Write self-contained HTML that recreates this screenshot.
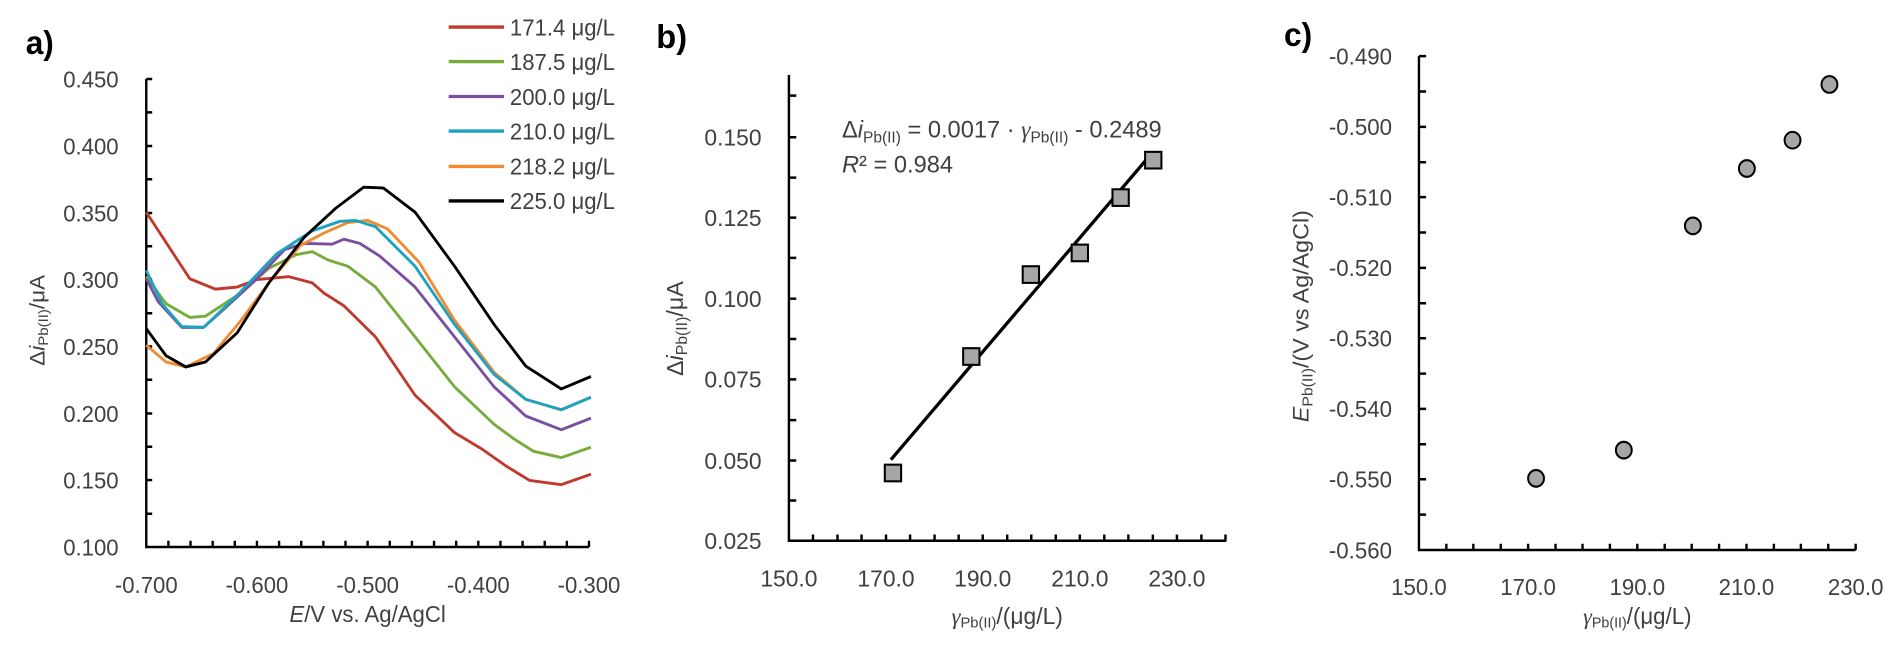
<!DOCTYPE html>
<html><head><meta charset="utf-8"><style>
html,body{margin:0;padding:0;background:#fff;}
svg{display:block;}
text{font-family:"Liberation Sans",sans-serif;fill:#404040;}
</style></head><body>
<svg width="1902" height="652" viewBox="0 0 1902 652" xmlns="http://www.w3.org/2000/svg">
<!-- Panel a -->
<g transform="translate(0,0) scale(0.3953,0.416)">
<text x="65" y="130" font-size="80" font-weight="bold" style="fill:#000">a)</text>
<g font-size="56" text-anchor="end">
<text x="300" y="210">0.450</text><text x="300" y="371">0.400</text><text x="300" y="532">0.350</text><text x="300" y="692">0.300</text><text x="300" y="853">0.250</text><text x="300" y="1014">0.200</text><text x="300" y="1174">0.150</text><text x="300" y="1335">0.100</text>
</g>
<g font-size="56" text-anchor="middle">
<text x="370" y="1425">-0.700</text><text x="650" y="1425">-0.600</text><text x="930" y="1425">-0.500</text><text x="1210" y="1425">-0.400</text><text x="1490" y="1425">-0.300</text>
<text x="930" y="1495"><tspan font-style="italic">E</tspan>/V vs. Ag/AgCl</text>
</g>
<text transform="translate(112,770) rotate(-90)" font-size="54" text-anchor="middle">Δ<tspan font-style="italic">i</tspan><tspan font-size="36" dy="10">Pb(II)</tspan><tspan dy="-10">/μA</tspan></text>
<g stroke="#000" stroke-width="6" fill="none">
<path d="M370,190 V1315 H1490"/>
<path d="M370,190h15M370,270h15M370,351h15M370,431h15M370,512h15M370,592h15M370,672h15M370,753h15M370,833h15M370,913h15M370,994h15M370,1074h15M370,1154h15M370,1235h15"/>
<path d="M426,1315v-15M482,1315v-15M538,1315v-15M594,1315v-15M650,1315v-15M706,1315v-15M762,1315v-15M818,1315v-15M874,1315v-15M930,1315v-15M986,1315v-15M1042,1315v-15M1098,1315v-15M1154,1315v-15M1210,1315v-15M1266,1315v-15M1322,1315v-15M1378,1315v-15M1434,1315v-15M1490,1315v-15"/>
</g>
<g fill="none" stroke-width="7" stroke-linejoin="round">
<polyline stroke="#c0392b" points="370,510 480,670 545,695 600,690 650,672 730,665 790,680 820,705 870,735 950,810 1050,950 1150,1040 1220,1080 1280,1120 1340,1155 1420,1165 1495,1140"/>
<polyline stroke="#77ac3c" points="370,665 420,730 480,763 520,760 600,710 680,645 750,612 790,605 830,625 880,640 950,690 1050,810 1150,930 1250,1020 1300,1055 1350,1085 1420,1100 1495,1075"/>
<polyline stroke="#7b4fa0" points="370,670 400,725 460,787 515,787 570,740 650,670 720,600 770,585 840,587 870,575 910,585 960,615 1050,690 1150,810 1250,930 1330,1000 1420,1033 1495,1005"/>
<polyline stroke="#f28a30" points="370,830 420,870 470,882 540,850 610,770 680,680 760,590 820,560 880,535 930,530 980,550 1060,630 1150,770 1250,895 1330,960 1420,985 1495,955"/>
<polyline stroke="#1ba3c0" points="370,650 410,730 460,785 515,787 600,710 700,610 790,555 860,532 900,530 950,545 1050,640 1150,780 1250,900 1330,960 1420,985 1495,955"/>
<polyline stroke="#000" points="370,790 420,855 470,882 520,870 600,800 680,680 770,570 850,500 920,450 970,452 1050,510 1150,640 1250,780 1330,880 1420,935 1495,905"/>
</g>
<g stroke-width="8">
<line x1="1135" y1="65" x2="1275" y2="65" stroke="#c0392b"/>
<line x1="1135" y1="148" x2="1275" y2="148" stroke="#77ac3c"/>
<line x1="1135" y1="232" x2="1275" y2="232" stroke="#7b4fa0"/>
<line x1="1135" y1="315" x2="1275" y2="315" stroke="#1ba3c0"/>
<line x1="1135" y1="400" x2="1275" y2="400" stroke="#f28a30"/>
<line x1="1135" y1="483" x2="1275" y2="483" stroke="#000"/>
</g>
<g font-size="56">
<text x="1290" y="85">171.4 μg/L</text><text x="1290" y="168">187.5 μg/L</text><text x="1290" y="252">200.0 μg/L</text><text x="1290" y="335">210.0 μg/L</text><text x="1290" y="420">218.2 μg/L</text><text x="1290" y="503">225.0 μg/L</text>
</g>
</g>
<!-- Panel b -->
<g transform="translate(640,0) scale(0.408,0.416)">
<text x="40" y="115" font-size="80" font-weight="bold" style="fill:#000">b)</text>
<g font-size="56" text-anchor="end">
<text x="298" y="350">0.150</text><text x="298" y="543">0.125</text><text x="298" y="738">0.100</text><text x="298" y="932">0.075</text><text x="298" y="1127">0.050</text><text x="298" y="1320">0.025</text>
</g>
<g font-size="56" text-anchor="middle">
<text x="365" y="1410">150.0</text><text x="603" y="1410">170.0</text><text x="840" y="1410">190.0</text><text x="1078" y="1410">210.0</text><text x="1316" y="1410">230.0</text>
<text x="900" y="1500"><tspan font-family="Liberation Serif" font-style="italic">γ</tspan><tspan font-size="36" dy="8">Pb(II)</tspan><tspan dy="-8">/(μg/L)</tspan></text>
</g>
<text transform="translate(105,790) rotate(-90)" font-size="56" text-anchor="middle">Δ<tspan font-style="italic">i</tspan><tspan font-size="38" dy="10">Pb(II)</tspan><tspan dy="-10">/μA</tspan></text>
<g stroke="#000" stroke-width="6" fill="none">
<path d="M365,180 V1300 H1437"/>
<path d="M365,230h18M365,330h18M365,427h18M365,523h18M365,620h18M365,718h18M365,815h18M365,912h18M365,1010h18M365,1107h18M365,1203h18"/>
<path d="M424,1300v-15M484,1300v-15M543,1300v-15M603,1300v-15M662,1300v-15M722,1300v-15M781,1300v-15M840,1300v-15M900,1300v-15M959,1300v-15M1019,1300v-15M1078,1300v-15M1138,1300v-15M1197,1300v-15M1257,1300v-15M1316,1300v-15M1376,1300v-15M1435,1300v-15"/>
<line x1="615" y1="1105" x2="1240" y2="385" stroke-width="8"/>
</g>
<g fill="#a6a6a6" stroke="#000" stroke-width="5">
<rect x="600" y="1117" width="40" height="40"/><rect x="792" y="837" width="40" height="40"/><rect x="938" y="640" width="40" height="40"/><rect x="1058" y="588" width="40" height="40"/><rect x="1158" y="455" width="40" height="40"/><rect x="1238" y="365" width="40" height="40"/>
</g>
<g font-size="58">
<text x="495" y="330">Δ<tspan font-style="italic">i</tspan><tspan font-size="38" dy="12">Pb(II)</tspan><tspan dy="-12"> = 0.0017 · </tspan><tspan font-family="Liberation Serif" font-style="italic">γ</tspan><tspan font-size="38" dy="12">Pb(II)</tspan><tspan dy="-12"> - 0.2489</tspan></text>
<text x="495" y="415"><tspan font-style="italic">R</tspan>² = 0.984</text>
</g>
</g>
<!-- Panel c -->
<g transform="translate(1280,0) scale(0.397,0.416)">
<text x="10" y="110" font-size="80" font-weight="bold" style="fill:#000">c)</text>
<g font-size="56" text-anchor="end">
<text x="282" y="155">-0.490</text><text x="282" y="325">-0.500</text><text x="282" y="494">-0.510</text><text x="282" y="664">-0.520</text><text x="282" y="833">-0.530</text><text x="282" y="1003">-0.540</text><text x="282" y="1172">-0.550</text><text x="282" y="1342">-0.560</text>
</g>
<g font-size="56" text-anchor="middle">
<text x="350" y="1430">150.0</text><text x="625" y="1430">170.0</text><text x="900" y="1430">190.0</text><text x="1175" y="1430">210.0</text><text x="1450" y="1430">230.0</text>
<text x="900" y="1500"><tspan font-family="Liberation Serif" font-style="italic">γ</tspan><tspan font-size="36" dy="8">Pb(II)</tspan><tspan dy="-8">/(μg/L)</tspan></text>
</g>
<text transform="translate(72,760) rotate(-90)" font-size="56" text-anchor="middle"><tspan font-style="italic">E</tspan><tspan font-size="38" dy="10">Pb(II)</tspan><tspan dy="-10">/(V vs Ag/AgCl)</tspan></text>
<g stroke="#000" stroke-width="6" fill="none">
<path d="M350,135 V1322 H1450"/>
<path d="M350,135h18M350,220h18M350,305h18M350,390h18M350,474h18M350,559h18M350,644h18M350,729h18M350,813h18M350,898h18M350,983h18M350,1068h18M350,1152h18M350,1237h18"/>
<path d="M419,1322v-15M487,1322v-15M556,1322v-15M625,1322v-15M694,1322v-15M762,1322v-15M831,1322v-15M900,1322v-15M969,1322v-15M1037,1322v-15M1106,1322v-15M1175,1322v-15M1244,1322v-15M1312,1322v-15M1381,1322v-15M1450,1322v-15"/>
</g>
<g fill="#a6a6a6" stroke="#000" stroke-width="5">
<circle cx="645" cy="1150" r="20"/><circle cx="866" cy="1082" r="20"/><circle cx="1040" cy="543" r="20"/><circle cx="1176" cy="405" r="20"/><circle cx="1291" cy="337" r="20"/><circle cx="1384" cy="203" r="20"/>
</g>
</g>
</svg>
</body></html>
